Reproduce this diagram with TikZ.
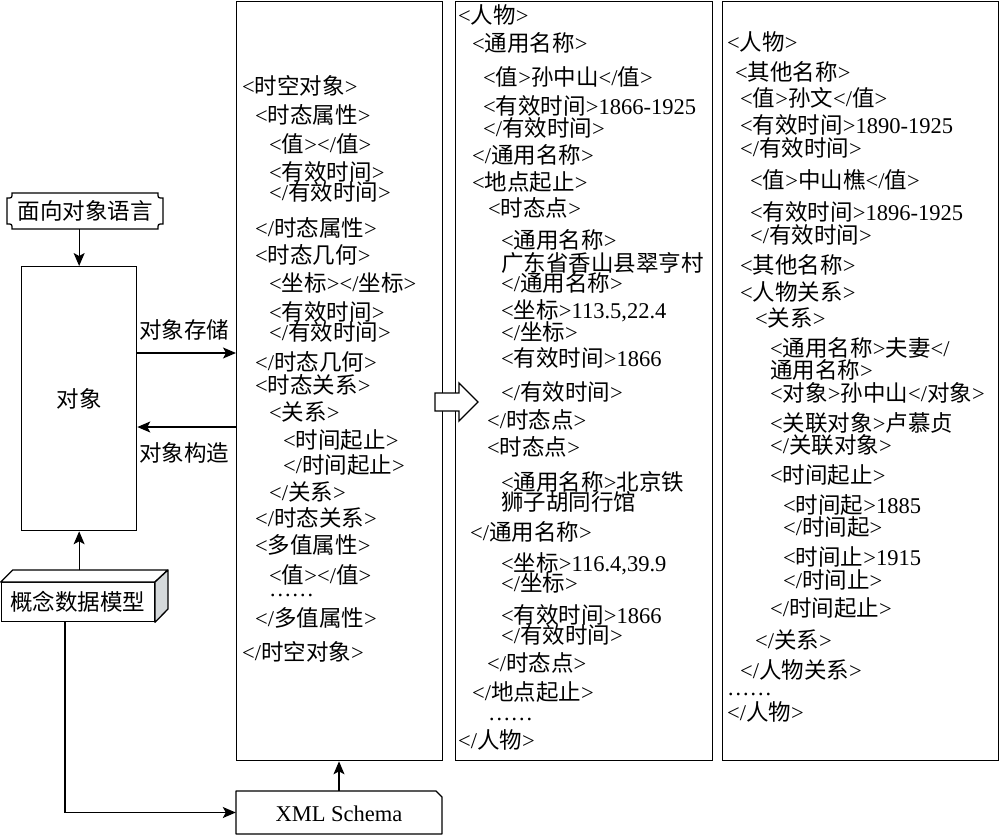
\documentclass[tikz,border=0pt]{standalone}
\usepackage{fontspec}
\setmainfont{Liberation Serif}
\newfontfamily\cjkfont{Noto Sans CJK SC}
\usetikzlibrary{arrows.meta,calc}
\XeTeXinterchartokenstate=1
\newXeTeXintercharclass\cjkclass
\newcount\cjkcnt
\cjkcnt="2E80
\loop
  \XeTeXcharclass\cjkcnt=\cjkclass
  \ifnum\cjkcnt<"9FFF
  \advance\cjkcnt by 1
\repeat
\XeTeXinterchartoks 0 \cjkclass = {\cjkfont}
\XeTeXinterchartoks 4095 \cjkclass = {\cjkfont}
\XeTeXinterchartoks \cjkclass 0 = {\rmfamily}
\XeTeXinterchartoks \cjkclass 4095 = {\rmfamily}
\tikzset{
  ln/.style={anchor=west, inner sep=0pt, text height=18pt, text depth=1pt},
  dotln/.style={anchor=base west, inner sep=0pt, text height=3pt, text depth=0pt},
  lbl/.style={inner sep=0pt, text height=18pt, text depth=1pt},
  bx/.style={draw, line width=1.3pt, inner sep=0pt},
  arr/.style={line width=1.2pt, -{Stealth[length=13pt,width=11pt,inset=3pt]}},
  edge/.style={line width=1.3pt}
}
\begin{document}
\begin{tikzpicture}[x=1pt,y=-1pt,font=\fontsize{22.5pt}{25pt}\selectfont]
\useasboundingbox (0,0) rectangle (1000,835);
% column boxes
\node[bx, anchor=north west, minimum width=206pt, minimum height=759pt] (col2) at (236,1) {};
\node[bx, anchor=north west, minimum width=257pt, minimum height=759pt] (col3) at (455,1) {};
\node[bx, anchor=north west, minimum width=276pt, minimum height=759pt] (col4) at (722,1) {};
% left blocks
\node[lbl, minimum width=156pt, minimum height=36pt] (lang) at (85,211) {面向对象语言};
\draw[edge] (12,193) -- (158,193) .. controls (158,198) .. (163,198) -- (163,224)
  .. controls (158,224) .. (158,229) -- (12,229) .. controls (12,224) .. (7,224)
  -- (7,198) .. controls (12,198) .. (12,193) -- cycle;
\node[bx, anchor=north west, minimum width=115pt, minimum height=264pt] (obj) at (21,266) {对象};
% cuboid
\node[bx, anchor=north west, minimum width=153pt, minimum height=39pt] (cdm) at (0.7,582) {概念数据模型};
\draw[edge, fill=white, line join=round] (cdm.north west) -- ++(12,-12) -- ++(155,0) -- (cdm.north east) -- cycle;
\draw[edge, fill=cyan!8!gray!35, line join=round] (cdm.north east) -- ++(13,-12) -- ++(0,39) -- (cdm.south east) -- cycle;
% XML Schema
\node[lbl, minimum width=206pt, minimum height=43pt] (xml) at (339,812.5) {XML Schema};
\draw[edge, line join=round] (236,791) -- (436,791) -- (442,797) -- (442,834) -- (236,834) -- cycle;
% connectors
\draw[arr] (obj.north |- 0,229) -- (obj.north);
\draw[arr] (obj.east |- 0,353) -- (col2.west |- 0,353);
\draw[arr] (col2.west |- 0,427) -- (obj.east |- 0,427);
\node[lbl] (store) at (184,330) {对象存储};
\node[lbl] (build) at (184,453) {对象构造};
\draw[arr] (obj.south |- 0,570) -- (obj.south);
\draw[arr] (cdm.south -| 65,0) |- (xml.west);
\draw[arr] (xml.north) -- (xml.north |- col2.south);
% hollow arrow
\draw[edge, fill=white, line join=miter] (435,393) -- (459,393) -- (459,383) -- (478,402) -- (459,421) -- (459,411) -- (435,411) -- cycle;
% column 2 text
\node[ln] (a1) at (242,86) {<时空对象>};
\node[ln] (a2) at (255,115) {<时态属性>};
\node[ln] (a3) at (269,144) {<值></值>};
\node[ln] (a4) at (269,172) {<有效时间>};
\node[ln] (a5) at (269,192) {</有效时间>};
\node[ln] (a6) at (255,228) {</时态属性>};
\node[ln] (a7) at (255,255) {<时态几何>};
\node[ln] (a8) at (269,283) {<坐标></坐标>};
\node[ln] (a9) at (269,312) {<有效时间>};
\node[ln] (a10) at (269,332) {</有效时间>};
\node[ln] (a11) at (255,362) {</时态几何>};
\node[ln] (a12) at (255,385) {<时态关系>};
\node[ln] (a13) at (269,412) {<关系>};
\node[ln] (a14) at (283,440) {<时间起止>};
\node[ln] (a15) at (283,465) {</时间起止>};
\node[ln] (a16) at (269,492) {</关系>};
\node[ln] (a17) at (255,518) {</时态关系>};
\node[ln] (a18) at (255,545) {<多值属性>};
\node[ln] (a19) at (269,575) {<值></值>};
\node[dotln] (a20) at (269,596) {……};
\node[ln] (a21) at (255,618) {</多值属性>};
\node[ln] (a22) at (242,652) {</时空对象>};
% column 3 text
\node[ln] (b1) at (458,15) {<人物>};
\node[ln] (b2) at (472,43) {<通用名称>};
\node[ln] (b3) at (483,77) {<值>孙中山</值>};
\node[ln] (b4) at (483,106) {<有效时间>1866-1925};
\node[ln] (b5) at (483,128) {</有效时间>};
\node[ln] (b6) at (472,155) {</通用名称>};
\node[ln] (b7) at (472,182) {<地点起止>};
\node[ln] (b8) at (488,208) {<时态点>};
\node[ln] (b9) at (501,240) {<通用名称>};
\node[ln] (b10) at (501,263) {广东省香山县翠亨村};
\node[ln] (b11) at (501,283) {</通用名称>};
\node[ln] (b12) at (501,310) {<坐标>113.5,22.4};
\node[ln] (b13) at (501,332) {</坐标>};
\node[ln] (b14) at (501,358) {<有效时间>1866};
\node[ln] (b15) at (501,392) {</有效时间>};
\node[ln] (b16) at (487,420) {</时态点>};
\node[ln] (b17) at (487,447) {<时态点>};
\node[ln] (b18) at (501,482) {<通用名称>北京铁};
\node[ln] (b19) at (501,502) {狮子胡同行馆};
\node[ln] (b20) at (470,532) {</通用名称>};
\node[ln] (b21) at (501,563) {<坐标>116.4,39.9};
\node[ln] (b22) at (501,583) {</坐标>};
\node[ln] (b23) at (501,615) {<有效时间>1866};
\node[ln] (b24) at (501,635) {</有效时间>};
\node[ln] (b25) at (487,663) {</时态点>};
\node[ln] (b26) at (472,692) {</地点起止>};
\node[dotln] (b27) at (488,720) {……};
\node[ln] (b28) at (458,740) {</人物>};
% column 4 text
\node[ln] (c1) at (727,42) {<人物>};
\node[ln] (c2) at (735,72) {<其他名称>};
\node[ln] (c3) at (740,98) {<值>孙文</值>};
\node[ln] (c4) at (740,125) {<有效时间>1890-1925};
\node[ln] (c5) at (740,148) {</有效时间>};
\node[ln] (c6) at (750,180) {<值>中山樵</值>};
\node[ln] (c7) at (750,212) {<有效时间>1896-1925};
\node[ln] (c8) at (750,235) {</有效时间>};
\node[ln] (c9) at (740,265) {<其他名称>};
\node[ln] (c10) at (740,292) {<人物关系>};
\node[ln] (c11) at (755,318) {<关系>};
\node[ln] (c12) at (770,348) {<通用名称>夫妻</};
\node[ln] (c13) at (770,370) {通用名称>};
\node[ln] (c14) at (770,393) {<对象>孙中山</对象>};
\node[ln] (c15) at (770,423) {<关联对象>卢慕贞};
\node[ln] (c16) at (770,445) {</关联对象>};
\node[ln] (c17) at (770,475) {<时间起止>};
\node[ln] (c18) at (783,505) {<时间起>1885};
\node[ln] (c19) at (783,527) {</时间起>};
\node[ln] (c20) at (783,557) {<时间止>1915};
\node[ln] (c21) at (783,580) {</时间止>};
\node[ln] (c22) at (770,608) {</时间起止>};
\node[ln] (c23) at (755,640) {</关系>};
\node[ln] (c24) at (740,670) {</人物关系>};
\node[dotln] (c25) at (727,695) {……};
\node[ln] (c26) at (727,712) {</人物>};
\end{tikzpicture}
\end{document}
